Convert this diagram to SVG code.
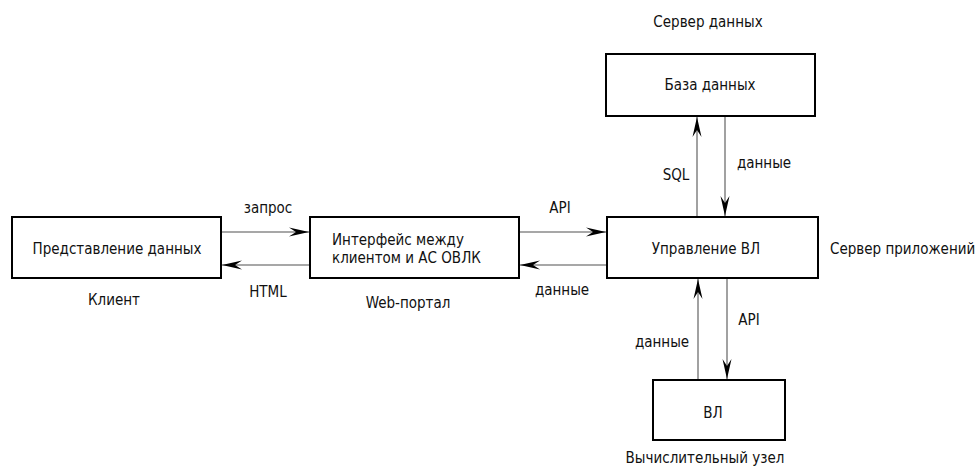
<svg xmlns="http://www.w3.org/2000/svg" width="977" height="466" viewBox="0 0 977 466">
<style>
.box{fill:#fff;stroke:#000;stroke-width:2}
.t{font-family:"DejaVu Sans Condensed","DejaVu Sans",sans-serif;font-size:15px;fill:#111;text-anchor:middle}
.l{text-anchor:start}
.c{stroke:#8a8a8a;stroke-width:1.6;fill:none;marker-end:url(#ah)}
</style>
<defs>
<marker id="ah" markerUnits="userSpaceOnUse" markerWidth="24" markerHeight="12" viewBox="-21 -6 22 12" refX="0" refY="0" orient="auto">
<path d="M0,0 L-20,-4.5 L-13,0 L-20,4.5 Z" fill="#000"/>
</marker>
</defs>
<rect width="977" height="466" fill="#fff"/>
<g id="connectors">
<line class="c" x1="222" y1="232" x2="309" y2="232"/>
<line class="c" x1="309" y1="265" x2="222" y2="265"/>
<line class="c" x1="520" y1="232" x2="606" y2="232"/>
<line class="c" x1="606" y1="265" x2="520" y2="265"/>
<line class="c" x1="697" y1="217" x2="697" y2="117"/>
<line class="c" x1="725" y1="117" x2="725" y2="216"/>
<line class="c" x1="698" y1="380" x2="698" y2="279"/>
<line class="c" x1="727" y1="279" x2="727" y2="379"/>
<text class="t" x="268" y="213">запрос</text>
<text class="t" x="268" y="297">HTML</text>
<text class="t" x="560" y="213">API</text>
<text class="t" x="562" y="295">данные</text>
<text class="t" x="676" y="180">SQL</text>
<text class="t" x="764" y="168">данные</text>
<text class="t" x="749" y="325">API</text>
<text class="t" x="662" y="347">данные</text>
</g>
<g id="client">
<rect class="box" x="12" y="217" width="209" height="61"/>
<text class="t" x="117" y="254">Представление данных</text>
<text class="t" x="114" y="305">Клиент</text>
</g>
<g id="portal">
<rect class="box" x="310" y="217" width="209" height="61"/>
<text class="t l" x="332" y="245">Интерфейс между</text>
<text class="t l" x="332" y="263">клиентом и АС ОВЛК</text>
<text class="t" x="408" y="308">Web-портал</text>
</g>
<g id="appserver">
<rect class="box" x="607" y="217" width="211" height="61"/>
<text class="t" x="706" y="254">Управление ВЛ</text>
<text class="t l" x="830" y="254">Сервер приложений</text>
</g>
<g id="dbserver">
<rect class="box" x="606" y="54" width="209" height="62"/>
<text class="t" x="710" y="90">База данных</text>
<text class="t" x="708" y="27">Сервер данных</text>
</g>
<g id="node">
<rect class="box" x="653" y="380" width="132" height="60"/>
<text class="t" x="713" y="418">ВЛ</text>
<text class="t" x="705" y="463">Вычислительный узел</text>
</g>
</svg>
